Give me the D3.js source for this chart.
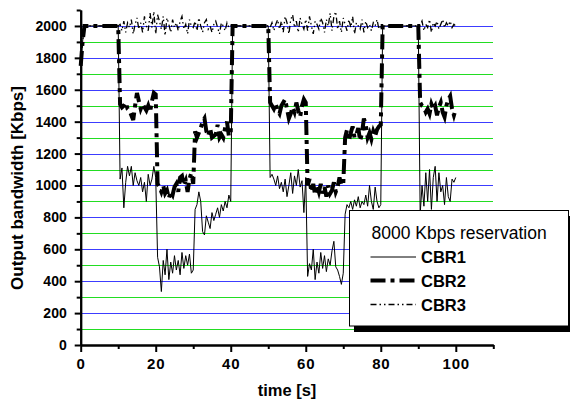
<!DOCTYPE html>
<html>
<head>
<meta charset="utf-8">
<script src="https://cdn.jsdelivr.net/npm/d3@7"></script>
<style>
  body { margin: 0; background: #fff; }
  svg { display: block; font-family: Arial, "Liberation Sans", sans-serif; }
</style>
</head>
<body>
<svg id="chart" width="570" height="401"></svg>
<script>
// Output bandwidth of three CBR flows under an 8000 Kbps reservation, sampled every 0.5 s
const sampleStep = 0.5;

const cbr1 = [
  1750, 1900,
  2000, 2000, 2000, 2000, 2000, 2000, 2000, 2000, 2000, 2000, 2000, 2000, 2000, 2000, 2000, 2000, 2000, 2000, 2000,
  1040, 1110, 860, 1020, 1120, 1060, 1120, 1000, 1080, 1030, 1000, 1050, 960, 1020, 900, 1070, 1000, 1040, 1120, 1050,
  550, 490, 335, 530, 440, 600, 410, 520, 450, 560, 470, 530, 440, 580, 480, 560, 500, 570, 450, 470,
  850, 880, 960, 900, 710, 690, 810, 770, 730, 830, 780, 820, 860, 800, 880, 840, 900, 860, 940, 900,
  2000, 2000, 2000, 2000, 2000, 2000, 2000, 2000, 2000, 2000, 2000, 2000, 2000, 2000, 2000, 2000, 2000, 2000, 2000, 2000,
  1050, 1070, 1040, 1000, 1060, 980, 1020, 960, 1040, 930, 1000, 1080, 950, 1060, 1000, 1100, 990, 1030, 830, 1050,
  430, 510, 470, 600, 410, 520, 450, 580, 480, 560, 460, 540, 500, 590, 650, 490, 470, 430, 380, 450,
  820, 880, 860, 900, 850, 910, 870, 930, 860, 900, 880, 940, 870, 1000, 900, 850, 990, 900, 860, 880,
  2000, 2000, 2000, 2000, 2000, 2000, 2000, 2000, 2000, 2000, 2000, 2000, 2000, 2000, 2000, 2000, 2000, 2000, 2000, 2000,
  820, 1000, 870, 1080, 900, 1100, 850, 1050, 1120, 900, 1080, 960, 1000, 880, 1050, 930, 900, 1040, 1020, 1050
];

const cbr2 = [
  1750, 1900,
  2000, 2000, 2000, 2000, 2000, 2000, 2000, 2000, 2000, 2000, 2000, 2000, 2000, 2000, 2000, 2000, 2000, 2000, 2000,
  1510, 1490, 1500, 1520, 1480, 1470, 1440, 1410, 1500, 1580, 1530, 1480, 1510, 1490, 1470, 1500, 1460, 1530, 1580, 1570,
  1010, 990, 960, 1000, 950, 970, 920, 960, 940, 990, 1010, 960, 1050, 1060, 1000, 1030, 960, 1040, 1080, 1010,
  1340, 1300, 1330, 1360, 1400, 1420, 1340, 1310, 1360, 1300, 1310, 1320, 1380, 1300, 1320, 1300, 1360, 1400, 1310, 1330,
  2000, 2000, 2000, 2000, 2000, 2000, 2000, 2000, 2000, 2000, 2000, 2000, 2000, 2000, 2000, 2000, 2000, 2000, 2000, 2000,
  1520, 1500, 1480, 1510, 1470, 1450, 1500, 1520, 1540, 1480, 1420, 1450, 1490, 1460, 1520, 1470, 1430, 1500, 1540, 1520,
  1000, 1040, 960, 1010, 940, 1000, 960, 1010, 950, 990, 930, 1000, 950, 970, 1020, 960, 990, 1050, 1000, 1010,
  1300, 1350, 1280, 1330, 1370, 1300, 1320, 1360, 1280, 1330, 1420, 1380, 1300, 1330, 1290, 1340, 1310, 1350, 1370, 1380,
  2000, 2000, 2000, 2000, 2000, 2000, 2000, 2000, 2000, 2000, 2000, 2000, 2000, 2000, 2000, 2000, 2000, 2000, 2000, 2000,
  1520, 1500, 1490, 1460, 1480, 1450, 1510, 1480, 1500, 1440, 1490, 1520, 1460, 1430, 1500, 1540, 1560, 1480, 1440, 1480
];

const cbr3 = [
  1750, 1900,
  2000, 2000, 2000, 2000, 2000, 2000, 2000, 2000, 2000, 2000, 2000, 2000, 2000, 2000, 2000, 2000, 2000, 2000, 2000,
  2010, 1970, 2030, 1960, 2020, 1990, 2040, 1950, 2010, 2050, 1980, 2020, 1960, 2060, 2000, 1970, 2080, 1990, 2090, 1950,
  2070, 2030, 1980, 2060, 1940, 2050, 2010, 1960, 2040, 1990, 2020, 1970, 2030, 2060, 1980, 2010, 1950, 2040, 2000, 1990,
  2030, 1970, 2050, 2000, 1960, 2020, 2040, 1980, 2000, 1960, 2010, 2030, 1990, 1950, 2020, 2000, 1970, 2020, 1990, 2000,
  2000, 2000, 2000, 2000, 2000, 2000, 2000, 2000, 2000, 2000, 2000, 2000, 2000, 2000, 2000, 2000, 2000, 2000, 2000, 2000,
  1990, 2020, 1970, 2010, 2040, 1980, 2030, 1960, 2060, 2020, 1950, 2040, 2070, 1990, 2030, 1960, 2050, 2010, 1980, 2040,
  1970, 2060, 2000, 1950, 2030, 2010, 1980, 2050, 2020, 1960, 2040, 2000, 2080, 1970, 2060, 2090, 1980, 2030, 1960, 2050,
  2010, 1970, 2040, 1990, 2060, 1950, 2020, 2000, 1980, 2040, 1960, 2030, 1990, 2010, 1970, 2020, 2000, 2040, 1980, 2000,
  2000, 2000, 2000, 2000, 2000, 2000, 2000, 2000, 2000, 2000, 2000, 2000, 2000, 2000, 2000, 2000, 2000, 2000, 2000, 2000,
  2000, 2030, 1970, 2010, 1990, 2040, 1960, 2020, 2000, 2030, 1980, 2010, 2040, 1990, 2020, 2000, 2030, 1990, 2010, 2000
];

const xMajorTicks = [0, 20, 40, 60, 80, 100];
const xMinorTicks = [10, 30, 50, 70, 90, 110];
const yMajorTicks = [0, 200, 400, 600, 800, 1000, 1200, 1400, 1600, 1800, 2000];
const yMinorTicks = [100, 300, 500, 700, 900, 1100, 1300, 1500, 1700, 1900, 2100];

const legendTitle = "8000 Kbps reservation";
const seriesNames = ["CBR1", "CBR2", "CBR3"];

const svg = d3.select("#chart");

const x = d3.scaleLinear().domain([0, 110]).range([80.7, 493.3]);
const y = d3.scaleLinear().domain([0, 2100]).range([345, 10]);

// horizontal guide lines: blue on the labelled values, green in between
const blueGrid = yMajorTicks.filter(v => v > 0);
const greenGrid = yMinorTicks.filter(v => v < 2100);
const gridG = svg.append("g").attr("shape-rendering", "crispEdges");
function drawGrid(vals, color) {
  gridG.append("g").selectAll("rect").data(vals).join("rect")
    .attr("x", x(0) + 1).attr("width", x(110) - x(0) - 1)
    .attr("y", d => Math.round(y(d))).attr("height", 1)
    .attr("fill", color);
}
drawGrid(blueGrid, "#3c3cff");
drawGrid(greenGrid, "#22dd22");

// series
const time = cbr1.map((_, i) => i * sampleStep);
const line = d3.line().x((d, i) => x(time[i])).y(d => y(d));

const styles = {
  CBR1: { width: 1, dash: null },
  CBR2: { width: 4, dash: "15,5,4,5" },
  CBR3: { width: 1.3, dash: "6,3,1.5,3,1.5,3" }
};

const plotG = svg.append("g");
[["CBR3", cbr3], ["CBR1", cbr1], ["CBR2", cbr2]].forEach(([name, vals]) => {
  plotG.append("path")
    .datum(vals)
    .attr("d", line)
    .attr("fill", "none")
    .attr("stroke", "#000")
    .attr("stroke-width", styles[name].width)
    .attr("stroke-dasharray", styles[name].dash)
    .attr("stroke-linejoin", "miter");
});

// axes
function styleAxis(g) {
  g.select(".domain").attr("stroke", "#000").attr("stroke-width", 2);
  g.selectAll(".tick line").attr("stroke", "#000").attr("stroke-width", 2);
  g.selectAll("text").attr("fill", "#000").attr("font-weight", "bold").attr("font-size", 14);
}

svg.append("g").attr("transform", `translate(${x(0)},0)`)
  .call(d3.axisLeft(y).tickValues(yMinorTicks).tickSize(4).tickSizeOuter(0).tickFormat(""))
  .call(styleAxis);
svg.append("g").attr("transform", `translate(${x(0)},0)`)
  .call(d3.axisLeft(y).tickValues(yMajorTicks).tickSize(6).tickSizeOuter(0).tickPadding(8).tickFormat(d3.format("d")))
  .call(styleAxis);

svg.append("g").attr("transform", `translate(0,${y(0)})`)
  .call(d3.axisBottom(x).tickValues(xMinorTicks).tickSize(4).tickSizeOuter(0).tickFormat(""))
  .call(styleAxis);
svg.append("g").attr("transform", `translate(0,${y(0)})`)
  .call(d3.axisBottom(x).tickValues(xMajorTicks).tickSize(7).tickSizeOuter(0).tickPadding(6).tickFormat(d3.format("d")))
  .call(styleAxis)
  .call(g => g.selectAll("text").attr("font-size", 15).attr("letter-spacing", "0.8px"));

// axis titles
svg.append("text")
  .attr("transform", `translate(23,${188}) rotate(-90)`)
  .attr("text-anchor", "middle")
  .attr("font-weight", "bold").attr("font-size", 17)
  .text("Output bandwidth [Kbps]");

svg.append("text")
  .attr("x", 287).attr("y", 396)
  .attr("text-anchor", "middle")
  .attr("font-weight", "bold").attr("font-size", 16.5)
  .text("time [s]");

// legend with drop shadow
const lg = svg.append("g");
lg.append("rect").attr("x", 354).attr("y", 216).attr("width", 220).attr("height", 116).attr("fill", "#000");
lg.append("rect").attr("x", 349.5).attr("y", 210.5).attr("width", 219).attr("height", 115.5)
  .attr("fill", "#fff").attr("stroke", "#000").attr("stroke-width", 1);
lg.append("text").attr("x", 371.5).attr("y", 239).attr("font-size", 17.5).text(legendTitle);

const rowY = [257, 280.5, 304.5];
seriesNames.forEach((name, i) => {
  lg.append("line")
    .attr("x1", 370.5).attr("x2", 416).attr("y1", rowY[i]).attr("y2", rowY[i])
    .attr("stroke", "#000")
    .attr("stroke-width", styles[name].width)
    .attr("stroke-dasharray", styles[name].dash);
  lg.append("text").attr("x", 421).attr("y", rowY[i] + 6)
    .attr("font-weight", "bold").attr("font-size", 16.5).text(name);
});
</script>
</body>
</html>
